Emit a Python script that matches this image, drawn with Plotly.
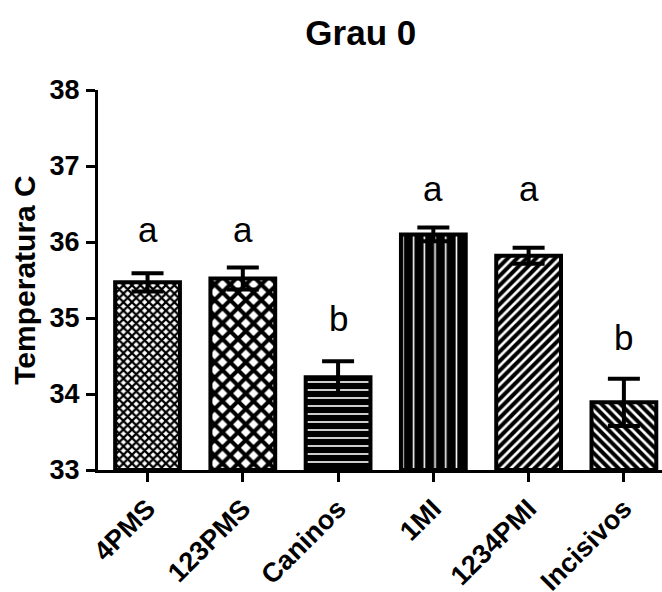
import plotly.graph_objects as go

categories = ["4PMS", "123PMS", "Caninos", "1MI", "1234PMI", "Incisivos"]
means = [35.47, 35.52, 34.22, 36.10, 35.82, 33.89]
sems = [0.12, 0.145, 0.21, 0.09, 0.105, 0.31]
letters = ["a", "a", "b", "a", "a", "b"]
letter_y = [35.99, 35.99, 34.82, 36.53, 36.53, 34.56]
y_ticks = [33, 34, 35, 36, 37, 38]

patterns = [
    dict(shape="x", size=6, solidity=0.6, fgcolor="black", bgcolor="white", fgopacity=1),
    dict(shape="x", size=11, solidity=0.6, fgcolor="black", bgcolor="white", fgopacity=1),
    dict(shape="-", size=8, solidity=0.2, fgcolor="white", bgcolor="black", fgopacity=1),
    dict(shape="|", size=10.7, solidity=0.15, fgcolor="white", bgcolor="black", fgopacity=1),
    dict(shape="/", size=6.7, solidity=0.6, fgcolor="black", bgcolor="white", fgopacity=1),
    dict(shape="\\", size=6.7, solidity=0.6, fgcolor="black", bgcolor="white", fgopacity=1),
]

FONT = "Arial, Liberation Sans, sans-serif"

fig = go.Figure()
for i, cat in enumerate(categories):
    fig.add_trace(go.Bar(
        x=[i], y=[means[i] - 33], base=33,
        width=0.68,
        marker=dict(color="white", line=dict(color="black", width=4), pattern=patterns[i]),
        error_y=dict(type="data", array=[sems[i]], color="black", thickness=4, width=16, visible=True),
        showlegend=False,
    ))

for i, (l, ly) in enumerate(zip(letters, letter_y)):
    fig.add_annotation(x=i, y=ly, text=l, showarrow=False, yanchor="bottom",
                       font=dict(family=FONT, size=35, color="black"), yshift=-8)

fig.update_layout(
    width=662, height=592,
    margin=dict(l=98, r=0, t=90, b=122, autoexpand=False),
    paper_bgcolor="white", plot_bgcolor="white",
    barmode="overlay",
    title=dict(text="<b>Grau 0</b>", x=0.545, xref="container", xanchor="center",
               y=1 - 33 / 592, yref="container", yanchor="middle",
               font=dict(family=FONT, size=35, color="black")),
    xaxis=dict(
        range=[-0.52, 5.4],
        tickmode="array", tickvals=list(range(len(categories))),
        ticktext=[f"<b>{c}</b>" for c in categories],
        tickangle=-45,
        showline=True, linecolor="black", linewidth=3,
        ticks="outside", ticklen=9, tickwidth=3, tickcolor="black",
        tickfont=dict(family=FONT, size=27, color="black"),
        ticklabelstandoff=0,
        showgrid=False, zeroline=False,
    ),
    yaxis=dict(
        range=[33, 38],
        tickmode="array", tickvals=y_ticks, ticktext=[f"<b>{t}</b>" for t in y_ticks],
        showline=True, linecolor="black", linewidth=3,
        ticks="outside", ticklen=9, tickwidth=3, tickcolor="black",
        tickfont=dict(family=FONT, size=27, color="black"),
        ticklabelstandoff=1,
        showgrid=False, zeroline=False,
        title=dict(text="<b>Temperatura C</b>", font=dict(family=FONT, size=30, color="black"), standoff=6),
    ),
)

fig.write_html("out.html")
